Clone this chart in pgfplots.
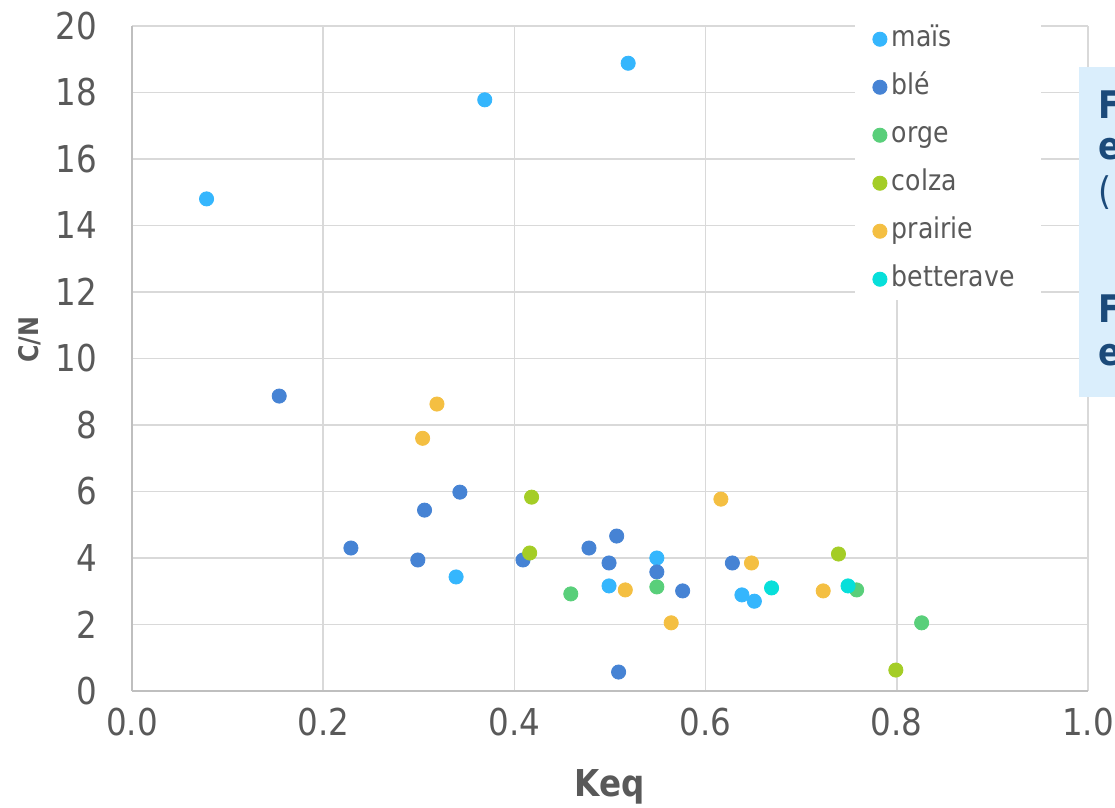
\documentclass[border=0pt]{standalone}
\usepackage{fontspec}
\setmainfont{DejaVu Sans}[FakeStretch=0.88]
\usepackage{pgfplots}
\pgfplotsset{compat=1.18}
\definecolor{cmais}{HTML}{35B6FD}
\definecolor{cble}{HTML}{4683D4}
\definecolor{corge}{HTML}{59CF7A}
\definecolor{ccolza}{HTML}{A4CD26}
\definecolor{cprairie}{HTML}{F4BF42}
\definecolor{cbett}{HTML}{07DFDA}
\definecolor{txt}{HTML}{595959}
\definecolor{gridc}{HTML}{D9D9D9}
\definecolor{axisc}{HTML}{BFBFBF}
\definecolor{boxc}{HTML}{DAEEFC}
\definecolor{boxtxt}{HTML}{1B4A7A}
\begin{document}
\begin{tikzpicture}
\begin{axis}[
  name=ax, at={(0,0)}, anchor=south west,
  scale only axis, width=478pt, height=332.5pt,
  xmin=0, xmax=1, ymin=0, ymax=20,
  xtick={0,0.2,0.4,0.6,0.8,1.0}, ytick={0,2,...,20},
  grid=major, major grid style={color=gridc, line width=0.8pt},
  axis lines*=left, axis line style={-, color=axisc, line width=1pt},
  major tick length=0pt,
  tick label style={font=\fontsize{18.5}{22}\selectfont, text=txt},
  /pgf/number format/assume math mode=true,
  xticklabel style={/pgf/number format/.cd, fixed, fixed zerofill, precision=1, /tikz/.cd, yshift=-5pt},
  yticklabel style={xshift=-14pt},
  xlabel={\textbf{Keq}}, ylabel={\textbf{C/N}},
  xlabel style={at={(axis description cs:0.4997,-0.1444)}, anchor=center, font=\fontsize{18.5}{22}\selectfont, text=txt},
  ylabel style={at={(axis description cs:-0.1067,0.528)}, anchor=center, font=\fontsize{13.5}{16}\selectfont, text=txt},
  clip=false,
  legend style={at={(axis cs:0.7745,20.05)}, anchor=north west, draw=none, fill=none, inner sep=0pt,
    row sep=9.5pt, column sep=0pt, font=\fontsize{14.3}{17}\selectfont, text=txt,
    nodes={inner xsep=2.4pt, inner ysep=0pt, text height=11pt, text depth=3.5pt}},
  legend cell align=left,
  legend image code/.code={\draw[#1, mark repeat=2, mark phase=2] plot coordinates {(0pt,0pt)(4pt,0pt)(8pt,0pt)};},
]
\fill[white] (axis cs:0.756,11.76) rectangle (axis cs:0.951,20.2);
\addplot[only marks, mark=*, mark size=3.55pt, color=cmais] coordinates {
(0.078,14.80) (0.369,17.78) (0.519,18.88) (0.339,3.43) (0.499,3.16) (0.549,4.00) (0.638,2.89) (0.651,2.70)};
\addlegendentry{maïs}
\addplot[only marks, mark=*, mark size=3.55pt, color=cble] coordinates {
(0.154,8.87) (0.229,4.30) (0.299,3.94) (0.306,5.44) (0.343,5.98) (0.409,3.94) (0.478,4.30) (0.507,4.66) (0.499,3.85) (0.549,3.58) (0.576,3.01) (0.509,0.57) (0.628,3.85)};
\addlegendentry{blé}
\addplot[only marks, mark=*, mark size=3.55pt, color=corge] coordinates {
(0.459,2.92) (0.549,3.13) (0.758,3.04) (0.826,2.05)};
\addlegendentry{orge}
\addplot[only marks, mark=*, mark size=3.55pt, color=ccolza] coordinates {
(0.418,5.83) (0.416,4.15) (0.739,4.12) (0.799,0.63)};
\addlegendentry{colza}
\addplot[only marks, mark=*, mark size=3.55pt, color=cprairie] coordinates {
(0.319,8.63) (0.304,7.60) (0.616,5.77) (0.516,3.04) (0.564,2.05) (0.648,3.85) (0.723,3.01)};
\addlegendentry{prairie}
\addplot[only marks, mark=*, mark size=3.55pt, color=cbett] coordinates {
(0.669,3.10) (0.749,3.16)};
\addlegendentry{betterave}
\fill[boxc] (axis cs:0.991,8.84) rectangle (axis cs:1.2,18.77);
\begin{scope}[every node/.style={anchor=base west, inner sep=0pt, text=boxtxt, font=\bfseries\fontsize{19}{22}\selectfont}]
\node at (axis cs:1.0105,17.23) {F};
\node at (axis cs:1.0105,15.97) {e};
\node[font=\fontsize{19}{22}\selectfont] at (axis cs:1.0105,14.62) {(};
\node at (axis cs:1.0105,11.07) {F};
\node at (axis cs:1.0105,9.80) {e};
\end{scope}
\end{axis}
\pgfresetboundingbox
\useasboundingbox (-66pt,-58.5pt) rectangle (491.5pt,345.5pt);
\end{tikzpicture}
\end{document}
